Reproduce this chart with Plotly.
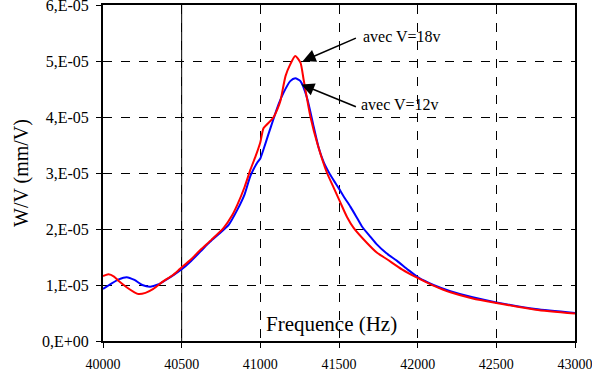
import plotly.graph_objects as go

# ---- data ----
freq_12v = [40000, 40050, 40100, 40150, 40200, 40250, 40300, 40350, 40400, 40450,
            40500, 40560, 40620, 40680, 40740, 40800, 40855, 40900, 40937, 40979,
            41000, 41020, 41050, 41083, 41115, 41147, 41190, 41222, 41255, 41297,
            41338, 41370, 41402, 41434, 41466, 41498, 41530, 41572, 41610, 41647,
            41700, 41742, 41800, 41869, 41940, 42006, 42100, 42208, 42350, 42500,
            42750, 43000]
w_12v = [0.93e-5, 1.02e-5, 1.10e-5, 1.14e-5, 1.09e-5, 1.00e-5, 0.97e-5, 1.01e-5, 1.09e-5, 1.18e-5,
         1.28e-5, 1.43e-5, 1.60e-5, 1.77e-5, 1.92e-5, 2.08e-5, 2.35e-5, 2.62e-5, 2.95e-5, 3.18e-5,
         3.26e-5, 3.42e-5, 3.68e-5, 3.96e-5, 4.22e-5, 4.43e-5, 4.64e-5, 4.69e-5, 4.64e-5, 4.34e-5,
         3.84e-5, 3.46e-5, 3.20e-5, 3.02e-5, 2.87e-5, 2.73e-5, 2.58e-5, 2.40e-5, 2.22e-5, 2.04e-5,
         1.86e-5, 1.72e-5, 1.57e-5, 1.43e-5, 1.27e-5, 1.13e-5, 1.00e-5, 0.89e-5, 0.78e-5, 0.69e-5,
         0.57e-5, 0.50e-5]

freq_18v = [40000, 40035, 40070, 40100, 40150, 40200, 40225, 40270, 40320, 40385,
            40440, 40490, 40560, 40620, 40690, 40767, 40820, 40855, 40900, 40937,
            40970, 41000, 41020, 41043, 41083, 41110, 41127, 41160, 41190, 41222,
            41255, 41275, 41318, 41365, 41424, 41466, 41509, 41550, 41593, 41678,
            41740, 41805, 41900, 41996, 42100, 42208, 42350, 42500, 42750, 43000]
w_18v = [1.16e-5, 1.19e-5, 1.15e-5, 1.07e-5, 0.96e-5, 0.87e-5, 0.84e-5, 0.86e-5, 0.93e-5, 1.07e-5,
         1.17e-5, 1.29e-5, 1.46e-5, 1.63e-5, 1.81e-5, 2.02e-5, 2.24e-5, 2.44e-5, 2.75e-5, 3.06e-5,
         3.30e-5, 3.55e-5, 3.80e-5, 3.87e-5, 3.99e-5, 4.15e-5, 4.28e-5, 4.73e-5, 4.94e-5, 5.09e-5,
         4.97e-5, 4.67e-5, 4.01e-5, 3.50e-5, 3.00e-5, 2.74e-5, 2.47e-5, 2.22e-5, 2.02e-5, 1.75e-5,
         1.58e-5, 1.46e-5, 1.28e-5, 1.13e-5, 0.99e-5, 0.87e-5, 0.76e-5, 0.68e-5, 0.56e-5, 0.49e-5]

y_tickvals = [0, 1e-5, 2e-5, 3e-5, 4e-5, 5e-5, 6e-5]
y_ticktext = ["0,E+00", "1,E-05", "2,E-05", "3,E-05", "4,E-05", "5,E-05", "6,E-05"]
x_tickvals = [40000, 40500, 41000, 41500, 42000, 42500, 43000]
x_ticktext = ["40000", "40500", "41000", "41500", "42000", "42500", "43000"]

label_18v = "avec V=18v"
label_12v = "avec V=12v"

FONT = "Liberation Serif"

fig = go.Figure()
fig.add_trace(go.Scatter(x=freq_12v, y=w_12v, mode="lines", name=label_12v,
                         line=dict(color="#0000ff", width=2, shape="spline", smoothing=0.6)))
fig.add_trace(go.Scatter(x=freq_18v, y=w_18v, mode="lines", name=label_18v,
                         line=dict(color="#ff0000", width=2, shape="spline", smoothing=0.6)))

# arrows + labels
fig.add_annotation(x=41270, y=5.0e-5, ax=41617, ay=5.42e-5, axref="x", ayref="y",
                   xref="x", yref="y", text="", showarrow=True,
                   arrowhead=2, arrowsize=1.6, arrowwidth=1.6, arrowcolor="black")
fig.add_annotation(x=41642, y=5.44e-5, xref="x", yref="y", text=label_18v,
                   showarrow=False, xanchor="left", yanchor="middle",
                   font=dict(family=FONT, size=16, color="black"))
fig.add_annotation(x=41261, y=4.58e-5, ax=41617, ay=4.17e-5, axref="x", ayref="y",
                   xref="x", yref="y", text="", showarrow=True,
                   arrowhead=2, arrowsize=1.6, arrowwidth=1.6, arrowcolor="black")
fig.add_annotation(x=41629, y=4.22e-5, xref="x", yref="y", text=label_12v,
                   showarrow=False, xanchor="left", yanchor="middle",
                   font=dict(family=FONT, size=16, color="black"))
# x-axis title drawn inside the plot area
fig.add_annotation(x=0.485, y=0.05, xref="paper", yref="paper", text="Frequence (Hz)",
                   showarrow=False, xanchor="center", yanchor="middle",
                   font=dict(family=FONT, size=21, color="black"))

fig.add_vline(x=40500, line=dict(color="black", width=1), layer="below")

fig.update_layout(
    width=592, height=370,
    margin=dict(l=103, r=17, t=5, b=29, autoexpand=False),
    paper_bgcolor="white", plot_bgcolor="white",
    showlegend=False,
    font=dict(family=FONT, size=14, color="black"),
)
fig.update_xaxes(range=[40000, 43000], tickvals=x_tickvals, ticktext=x_ticktext,
                 ticks="outside", ticklen=5, tickwidth=1, tickcolor="black",
                 showline=True, linecolor="black", linewidth=2, mirror=True,
                 showgrid=True, gridcolor="black", gridwidth=1, griddash="dash",
                 zeroline=False, tickfont=dict(family=FONT, size=14),
                 ticklabeloverflow="allow", ticklabelstandoff=4, automargin=False)
fig.update_yaxes(range=[0, 6e-5], tickvals=y_tickvals, ticktext=y_ticktext,
                 ticks="outside", ticklen=5, tickwidth=1, tickcolor="black",
                 showline=True, linecolor="black", linewidth=2, mirror=True,
                 showgrid=True, gridcolor="black", gridwidth=1, griddash="dash",
                 zeroline=False, tickfont=dict(family=FONT, size=16), ticklabelstandoff=4,
                 ticklabeloverflow="allow", automargin=False,
                 title=dict(text="W/V (mm/V)", font=dict(family=FONT, size=20), standoff=8))

fig.write_html("out.html", config={"displayModeBar": False},
               post_script="document.body.style.margin='0';document.body.style.padding='0';")
